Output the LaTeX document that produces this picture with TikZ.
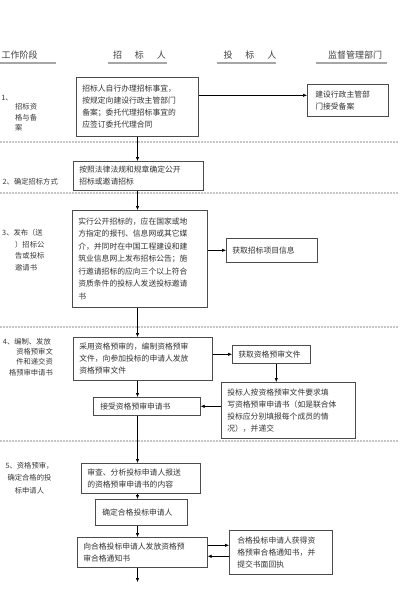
\documentclass[tikz,border=0pt]{standalone}
\usepackage{fontspec}
\usepackage{tikz}
\usetikzlibrary{arrows.meta}
\newfontfamily\cjkfont{Noto Sans CJK SC}

\begin{document}
\begin{tikzpicture}[x=1pt,y=-1pt,
  every node/.style={font=\cjkfont\fontsize{7.8}{12}\selectfont, text=black!80},
  flowbox/.style={draw=black!70, line width=0.6pt, anchor=north west, align=left, inner xsep=6pt, inner ysep=2pt},
  stagelbl/.style={inner sep=0pt, font=\cjkfont\fontsize{7.3}{10.3}\selectfont, text=black!78},
  headlbl/.style={inner sep=0pt, font=\cjkfont\fontsize{9}{11}\selectfont, text=black!75},
  headrule/.style={gray!70, line width=2pt},
  sepline/.style={gray!45, line width=1.2pt, dash pattern=on 2pt off 1pt},
  arr/.style={-{Latex[length=4pt,width=3.5pt]}, black, line width=0.6pt}]
\useasboundingbox (0,0) rectangle (400,608);
\fill[white] (0,0) rectangle (400,608);
\node[headlbl, anchor=west] (h1) at (1.5,55) {工作阶段};
\node[headlbl] (h2) at (139.5,55) {招\hspace{13pt}标\hspace{13pt}人};
\node[headlbl] (h3) at (250,55) {投\hspace{13pt}标\hspace{13pt}人};
\node[headlbl] (h4) at (355,55) {监督管理部门};
\foreach \a/\b in {0/56,108/167,217/276,316/387}
  \draw[headrule] (\a,62.5) -- (\b,62.5);
\foreach \y in {142,193,327,441}
  \draw[sepline] (0,\y) -- (398,\y);
\node[stagelbl, anchor=base east] (s1n) at (13,100) {1、};
\node[stagelbl, anchor=north west, align=left] (s1) at (15,103.5) {招标资\\格与备\\案};
\node[stagelbl, anchor=east] (s2) at (58,182) {2、确定招标方式};
\node[stagelbl, anchor=north west, align=left, font=\cjkfont\fontsize{7.3}{11.7}\selectfont] (s3) at (15,229) {\kern-13pt 3、发布（送\\）招标公\\告或投标\\邀请书};
\node[stagelbl, anchor=north east, align=right] (s4) at (53,338) {4、编制、发放\hbox to 2pt{}\\资格预审文\\件和递交资\\格预审申请书};
\node[stagelbl, anchor=north, align=center, font=\cjkfont\fontsize{7.3}{12.5}\selectfont] (s5) at (29.5,462) {5、资格预审，\\确定合格的投\\标申请人};
\node[flowbox, text width=110pt, minimum height=59pt] (b1) at (76,77) {招标人自行办理招标事宜，\\按规定向建设行政主管部门\\备案；委托代理招标事宜的\\应签订委托代理合同};
\node[flowbox, minimum height=32pt, inner xsep=8pt, text width=65pt] (b1r) at (307,84) {建设行政主管部\\门接受备案};
\node[flowbox, text width=118pt, minimum height=29pt] (b2) at (73,161) {按照法律法规和规章确定公开\\招标或邀请招标};
\node[flowbox, text width=123pt, minimum height=97pt, font=\cjkfont\fontsize{7.8}{12.5}\selectfont] (b3) at (72,210) {实行公开招标的，应在国家或地\\方指定的报刊、信息网或其它媒\\介，并同时在中国工程建设和建\\筑业信息网上发布招标公告；施\\行邀请招标的应向三个以上符合\\资质条件的投标人发送投标邀请\\书};
\node[flowbox, text width=79pt, minimum height=24pt] (b3r) at (226,238) {获取招标项目信息};
\node[flowbox, text width=127pt, minimum height=43pt] (b4) at (73,337) {采用资格预审的，编制资格预审\\文件，向参加投标的申请人发放\\资格预审文件};
\node[flowbox, text width=66pt, minimum height=18pt] (b4r) at (232,345) {获取资格预审文件};
\node[flowbox, text width=122pt, minimum height=56pt] (b4s) at (221,382) {投标人按资格预审文件要求填\\写资格预审申请书（如是联合体\\投标应分别填报每个成员的情\\况），并递交};
\node[flowbox, minimum height=18pt, inner xsep=7pt, text width=93pt] (b4a) at (93,397) {接受资格预审申请书};
\node[flowbox, text width=107pt, minimum height=30pt] (b5) at (81,463) {审查、分析投标申请人报送\\的资格预审申请书的内容};
\node[flowbox, minimum height=26pt, inner xsep=7pt, text width=78pt] (b5q) at (95,499) {确定合格投标申请人};
\node[flowbox, text width=118pt, minimum height=30pt] (b5n) at (77,537) {向合格投标申请人发放资格预\\审合格通知书};
\node[flowbox, minimum height=44pt, inner xsep=8pt, text width=87pt] (b5r) at (229,530) {合格投标申请人获得资\\格预审合格通知书，并\\提交书面回执};
\coordinate (trunk) at (137.5,0);
\coordinate (tail) at (137.5,582);
\draw[arr] (b1.south -| trunk) -- (b2.north -| trunk);
\draw[arr] (b2.south -| trunk) -- (b3.north -| trunk);
\draw[arr] (b3.south -| trunk) -- (b4.north -| trunk);
\draw[arr] (b4.south -| trunk) -- (b4a.north -| trunk);
\draw[arr] (b4a.south -| trunk) -- (b5.north -| trunk);
\draw[arr] (b5.south -| trunk) -- (b5q.north -| trunk);
\draw[arr] (b5q.south -| trunk) -- (b5n.north -| trunk);
\draw[arr] (b5n.south -| trunk) -- (tail);
\draw[arr] ([yshift=5pt]b1r.west -| b1.east) -- ([yshift=5pt]b1r.west);
\draw[arr] (b3r.west -| b3.east) -- (b3r.west);
\draw[arr] (b4r.west -| b4.east) -- (b4r.west);
\draw[arr] ([xshift=5pt]b4r.south) -- ([xshift=5pt]b4r.south |- b4s.north);
\draw[arr] (b4a.east -| b4s.west) -- (b4a.east);
\draw[arr] ([yshift=7pt]b5n.east) -- ([yshift=7pt]b5n.east -| b5r.west);
\draw[arr] ([yshift=-4pt]b5n.east -| b5r.west) -- ([yshift=-4pt]b5n.east);
\end{tikzpicture}
\end{document}
